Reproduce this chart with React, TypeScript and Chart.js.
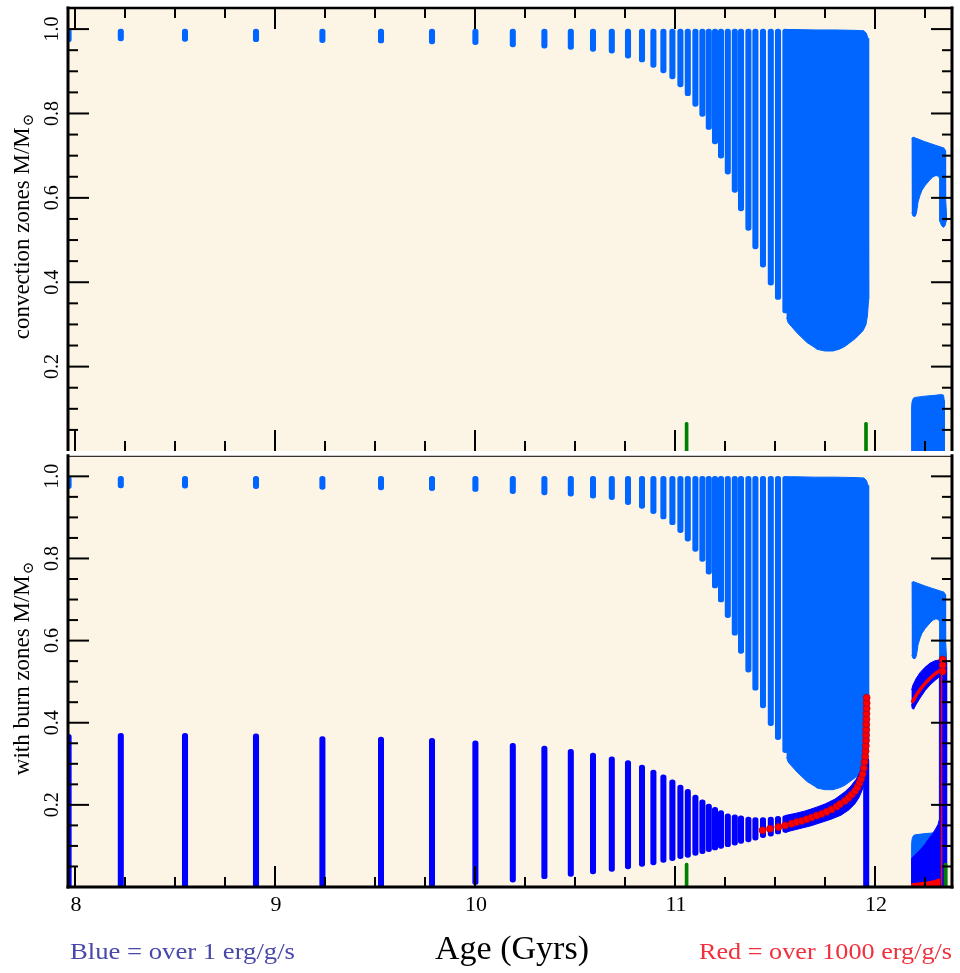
import React, { useEffect, useRef } from "react";
import { Chart, registerables } from "chart.js";

Chart.register(...registerables);

// ---------------- axis settings ----------------
const X_MIN = 7.965;
const X_MAX = 12.385;
const Y_MAX = 1.05;
const xTickValues = [8, 9, 10, 11, 12];
const xTickLabels = ["8", "9", "10", "11", "12"];
const yTickValues = [0.2, 0.4, 0.6, 0.8, 1.0];
const yTickLabels = ["0.2", "0.4", "0.6", "0.8", "1.0"];

// ---------------- convection zones (light blue) ----------------
const zoneAge = [7.968, 8.229, 8.55, 8.905, 9.237, 9.53, 9.785, 10.002, 10.189, 10.347, 10.479, 10.59, 10.684, 10.765, 10.835, 10.892, 10.942, 10.987, 11.027, 11.064, 11.102, 11.137, 11.169, 11.2, 11.23, 11.264, 11.299, 11.33, 11.367, 11.402, 11.44, 11.479, 11.515, 11.552];
const convLow = [0.970, 0.972, 0.971, 0.970, 0.968, 0.967, 0.965, 0.963, 0.958, 0.955, 0.952, 0.947, 0.943, 0.931, 0.922, 0.909, 0.896, 0.882, 0.863, 0.842, 0.817, 0.793, 0.762, 0.728, 0.694, 0.656, 0.613, 0.569, 0.523, 0.479, 0.436, 0.393, 0.359, 0.327];
const convHigh = [1.0, 1.0, 1.0, 1.0, 1.0, 1.0, 1.0, 1.0, 1.0, 1.0, 1.0, 1.0, 1.0, 1.0, 1.0, 1.0, 1.0, 1.0, 1.0, 1.0, 1.0, 1.0, 1.0, 1.0, 1.0, 1.0, 1.0, 1.0, 1.0, 1.0, 1.0, 1.0, 1.0, 1.0];

// dense envelope of the convective zone (outline)
const denseConvAge = [11.558, 11.60, 11.70, 11.80, 11.90, 11.945, 11.957, 11.965, 11.969, 11.969, 11.967, 11.962, 11.955, 11.94, 11.925, 11.90, 11.875, 11.85, 11.825, 11.79, 11.75, 11.71, 11.70, 11.66, 11.61, 11.566, 11.558];
const denseConvMass = [0.999, 0.999, 0.998, 0.998, 0.997, 0.996, 0.99, 0.978, 0.955, 0.42, 0.36, 0.32, 0.30, 0.285, 0.278, 0.266, 0.257, 0.248, 0.242, 0.237, 0.237, 0.241, 0.245, 0.257, 0.28, 0.304, 0.316];

// shell convection after the flash (outline)
const shellConvAge = [12.183, 12.19, 12.25, 12.30, 12.345, 12.352, 12.353, 12.357, 12.356, 12.35, 12.342, 12.333, 12.324, 12.323, 12.318, 12.305, 12.29, 12.275, 12.25, 12.235, 12.225, 12.215, 12.211, 12.206, 12.2, 12.19, 12.184];
const shellConvMass = [0.740, 0.744, 0.733, 0.725, 0.718, 0.712, 0.60, 0.565, 0.545, 0.534, 0.530, 0.534, 0.545, 0.645, 0.651, 0.653, 0.650, 0.643, 0.629, 0.618, 0.606, 0.59, 0.575, 0.562, 0.556, 0.557, 0.565];

// core convection (outline)
const coreConvAge = [12.183, 12.183, 12.186, 12.192, 12.20, 12.25, 12.30, 12.333, 12.343, 12.346, 12.347];
const coreConvMass = [-0.01, 0.106, 0.118, 0.125, 0.127, 0.130, 0.132, 0.134, 0.132, 0.12, -0.01];

// ---------------- burning zones (dark blue, > 1 erg/g/s) ----------------
const burnAge = [7.968, 8.229, 8.55, 8.905, 9.237, 9.53, 9.785, 10.002, 10.189, 10.347, 10.479, 10.59, 10.684, 10.765, 10.835, 10.892, 10.942, 10.987, 11.027, 11.064, 11.102, 11.137, 11.169, 11.2, 11.23, 11.264, 11.299, 11.33, 11.367, 11.402, 11.44, 11.479, 11.515, 11.552, 11.956];
const burnLow = [-0.02, -0.02, -0.02, -0.02, -0.02, -0.02, 0.0, 0.006, 0.012, 0.020, 0.026, 0.032, 0.038, 0.044, 0.050, 0.054, 0.060, 0.064, 0.069, 0.072, 0.077, 0.081, 0.086, 0.090, 0.094, 0.098, 0.102, 0.106, 0.110, 0.114, 0.120, 0.124, 0.129, 0.133, -0.02];
const burnHigh = [0.372, 0.374, 0.374, 0.373, 0.366, 0.365, 0.362, 0.356, 0.350, 0.343, 0.335, 0.326, 0.317, 0.308, 0.297, 0.285, 0.273, 0.261, 0.248, 0.238, 0.224, 0.212, 0.202, 0.194, 0.186, 0.178, 0.176, 0.173, 0.170, 0.169, 0.169, 0.170, 0.172, 0.174, 0.314];

// H-burning shell band (outline)
const burnBandAge = [11.55, 11.60, 11.65, 11.70, 11.75, 11.80, 11.85, 11.88, 11.905, 11.925, 11.94, 11.95, 11.956, 11.96, 11.96, 11.953, 11.945, 11.935, 11.92, 11.90, 11.87, 11.83, 11.78, 11.73, 11.68, 11.63, 11.58, 11.55];
const burnBandMass = [0.174, 0.179, 0.185, 0.193, 0.202, 0.214, 0.232, 0.246, 0.262, 0.28, 0.30, 0.33, 0.40, 0.47, 0.30, 0.27, 0.25, 0.235, 0.218, 0.203, 0.188, 0.175, 0.165, 0.157, 0.149, 0.143, 0.137, 0.133];

// burning arc after the flash (outline)
const bananaBurnAge = [12.183, 12.19, 12.205, 12.225, 12.25, 12.275, 12.30, 12.322, 12.322, 12.30, 12.275, 12.25, 12.225, 12.205, 12.193, 12.186, 12.183];
const bananaBurnMass = [0.48, 0.492, 0.507, 0.522, 0.535, 0.545, 0.551, 0.553, 0.512, 0.503, 0.492, 0.478, 0.46, 0.444, 0.433, 0.435, 0.445];

// core burning + He shell column (outline)
const coreBurnAge = [12.183, 12.183, 12.20, 12.225, 12.25, 12.267, 12.285, 12.30, 12.315, 12.322, 12.322, 12.326, 12.334, 12.345, 12.354, 12.358, 12.358];
const coreBurnMass = [-0.01, 0.07, 0.078, 0.09, 0.104, 0.116, 0.128, 0.139, 0.152, 0.165, 0.548, 0.556, 0.56, 0.559, 0.555, 0.545, -0.01];

// ---------------- strong burning (red, > 1000 erg/g/s) ----------------
const redDotAge = [11.438, 11.475, 11.517, 11.55, 11.583, 11.608, 11.633, 11.658, 11.683, 11.708, 11.733, 11.758, 11.783, 11.808, 11.825, 11.85, 11.867, 11.883, 11.90, 11.912, 11.922, 11.93, 11.938, 11.944, 11.948, 11.951, 11.953, 11.954, 11.955, 11.955, 11.956, 11.956, 11.957, 11.957, 11.958, 11.958, 11.958];
const redDotMass = [0.138, 0.142, 0.146, 0.150, 0.154, 0.158, 0.161, 0.165, 0.169, 0.174, 0.178, 0.183, 0.189, 0.196, 0.202, 0.210, 0.217, 0.225, 0.234, 0.243, 0.253, 0.263, 0.275, 0.29, 0.305, 0.318, 0.331, 0.344, 0.357, 0.370, 0.383, 0.396, 0.409, 0.422, 0.435, 0.448, 0.461];
const shellRedAge = [12.338, 12.338, 12.338];
const shellRedMass = [0.554, 0.54, 0.525];
const bananaRedAge = [12.188, 12.21, 12.24, 12.27, 12.30, 12.325];
const bananaRedMass = [0.452, 0.47, 0.49, 0.506, 0.519, 0.528];
const columnRedAge = [12.333, 12.333];
const columnRedMass = [0.0, 0.52];
const coreRedAge = [12.183, 12.183, 12.22, 12.26, 12.30, 12.32, 12.322];
const coreRedMass = [-0.01, 0.008, 0.01, 0.012, 0.016, 0.02, -0.01];

// ---------------- green markers ----------------
const greenTopAge = [11.058, 11.955];
const greenTopMass = [0.068, 0.068];
const greenBottomAge = [11.058, 12.353];
const greenBottomMass = [0.058, 0.058];

// ---------------- styles ----------------
const BG = "#fcf5e6";
const LIGHT = "#0066ff";
const DARK = "#0000ff";
const RED = "#ff0000";
const GREEN = "#008000";
const SERIF = '"Liberation Serif", "DejaVu Serif", serif';

const pts = (xs: number[], ys: number[]) => xs.map((x, i) => ({ x, y: ys[i] }));
const bars = (xs: number[], lo: number[], hi: number[]) => xs.map((x, i) => ({ x, y: [lo[i], hi[i]] }));
const floorBars = (xs: number[], hi: number[]) => xs.map((x, i) => ({ x, y: [-0.01, hi[i]] }));

const polygon = (xs: number[], ys: number[], color: string, order: number) => ({
  type: "line" as const,
  data: pts(xs, ys),
  borderColor: color,
  backgroundColor: color,
  borderWidth: 1,
  pointRadius: 0,
  tension: 0,
  fill: "shape",
  order,
  clip: 0,
});

const barSet = (data: any[], color: string, thickness: number, order: number) => ({
  type: "bar" as const,
  data,
  backgroundColor: color,
  borderWidth: 0,
  barThickness: thickness,
  borderRadius: thickness / 2,
  borderSkipped: false,
  grouped: false,
  order,
  clip: 0,
});

const convDatasets = (order: number) => [
  barSet(bars(zoneAge, convLow, convHigh), LIGHT, 5.4, order),
  polygon(denseConvAge, denseConvMass, LIGHT, order),
  polygon(shellConvAge, shellConvMass, LIGHT, order),
  polygon(coreConvAge, coreConvMass, LIGHT, order),
];

function drawYTitle(ctx: CanvasRenderingContext2D, text: string, x: number, y: number) {
  ctx.save();
  ctx.translate(x, y);
  ctx.rotate(-Math.PI / 2);
  ctx.fillStyle = "#000";
  ctx.textBaseline = "alphabetic";
  ctx.textAlign = "left";
  ctx.font = `23px ${SERIF}`;
  const w1 = ctx.measureText(text).width;
  ctx.font = `15px "DejaVu Serif", serif`;
  const w2 = ctx.measureText("\u2299").width;
  const start = -(w1 + w2 + 1) / 2;
  ctx.font = `23px ${SERIF}`;
  ctx.fillText(text, start, 0);
  ctx.font = `15px "DejaVu Serif", serif`;
  ctx.fillText("\u2299", start + w1 + 1, 4);
  ctx.restore();
}

// draws text stretched horizontally to a target width (TeX fonts are wider)
function fitText(ctx: CanvasRenderingContext2D, text: string, x: number, y: number, width: number, align: "left" | "right") {
  const w = ctx.measureText(text).width;
  const s = width / w;
  ctx.save();
  ctx.textAlign = "left";
  const left = align === "left" ? x : x - width;
  ctx.translate(left, y);
  ctx.scale(s, 1);
  ctx.fillText(text, 0, 0);
  ctx.restore();
}

function decorPlugin(cfg: { title: string; top: boolean }) {
  return {
    id: "decor",
    beforeDraw(chart: any) {
      const { ctx, chartArea: a } = chart;
      ctx.save();
      ctx.fillStyle = BG;
      ctx.fillRect(a.left, a.top, a.right - a.left, a.bottom - a.top);
      ctx.restore();
    },
    afterDraw(chart: any) {
      const { ctx, chartArea: a } = chart;
      const xs = chart.scales.x;
      const ys = chart.scales.y;
      ctx.save();
      ctx.strokeStyle = "#000";
      ctx.lineCap = "butt";
      const line = (x1: number, y1: number, x2: number, y2: number, w: number) => {
        ctx.lineWidth = w;
        ctx.beginPath();
        ctx.moveTo(x1, y1);
        ctx.lineTo(x2, y2);
        ctx.stroke();
      };
      // x ticks every 0.25
      for (let k = 0; k <= 17; k++) {
        const v = 8 + k * 0.25;
        const p = xs.getPixelForValue(v);
        if (p < a.left || p > a.right) continue;
        const len = k % 4 === 0 ? 21 : 10;
        if (cfg.top) {
          line(p, a.top, p, a.top + len, 2);
          line(p, a.bottom, p, a.bottom - len, 2);
        } else {
          line(p, a.bottom, p, a.bottom - len, 2);
        }
      }
      // y ticks every 0.05
      for (let k = 1; k <= 20; k++) {
        const v = k * 0.05;
        const p = ys.getPixelForValue(v);
        const len = k % 4 === 0 ? 21 : 10;
        line(a.left, p, a.left + len, p, 2);
        line(a.right, p, a.right - len, p, 2);
      }
      // frame
      ctx.lineCap = "square";
      line(a.left, a.top, a.left, a.bottom, 3);
      line(a.right, a.top, a.right, a.bottom, 3);
      if (cfg.top) {
        line(a.left, a.top, a.right, a.top, 2.5);
      } else {
        ctx.lineCap = "butt";
        line(a.left, a.top + 0.5, a.right, a.top + 0.5, 1);
        ctx.lineCap = "square";
        line(a.left, a.bottom, a.right, a.bottom, 3);
      }
      // y tick labels (rotated)
      ctx.fillStyle = "#000";
      ctx.font = `20px ${SERIF}`;
      yTickValues.forEach((v, i) => {
        const p = ys.getPixelForValue(v);
        ctx.save();
        ctx.translate(a.left - 10, p);
        ctx.rotate(-Math.PI / 2);
        ctx.textAlign = "center";
        ctx.textBaseline = "alphabetic";
        ctx.fillText(yTickLabels[i], 0, 0);
        ctx.restore();
      });
      drawYTitle(ctx, cfg.title, 29, (a.top + a.bottom) / 2 - 3);
      if (!cfg.top) {
        ctx.textBaseline = "alphabetic";
        ctx.textAlign = "center";
        ctx.font = `22px ${SERIF}`;
        xTickValues.forEach((v, i) => {
          const p = xs.getPixelForValue(v);
          ctx.fillText(xTickLabels[i], p + 1, a.bottom + 24);
        });
        ctx.font = `34px ${SERIF}`;
        ctx.fillText("Age (Gyrs)", 512, a.bottom + 72);
        ctx.font = `23px ${SERIF}`;
        ctx.fillStyle = "#4848a8";
        fitText(ctx, "Blue = over 1 erg/g/s", 70, a.bottom + 72, 225, "left");
        ctx.fillStyle = "#f0303c";
        fitText(ctx, "Red = over 1000 erg/g/s", 952, a.bottom + 72, 253, "right");
      }
      ctx.restore();
    },
  };
}

function baseOptions(padding: any) {
  return {
    responsive: false,
    animation: false as const,
    devicePixelRatio: 1,
    events: [] as any[],
    layout: { padding },
    plugins: { legend: { display: false }, tooltip: { enabled: false } },
    scales: {
      x: { type: "linear" as const, min: X_MIN, max: X_MAX, display: false, offset: false },
      y: { type: "linear" as const, min: 0, max: Y_MAX, display: false },
    },
  };
}

export default function App() {
  const topRef = useRef<HTMLCanvasElement>(null);
  const botRef = useRef<HTMLCanvasElement>(null);

  useEffect(() => {
    const top = new Chart(topRef.current!, {
      type: "bar",
      data: {
        datasets: [
          barSet(floorBars(greenTopAge, greenTopMass), GREEN, 3, 0),
          ...convDatasets(5),
        ] as any,
      },
      options: baseOptions({ left: 68, right: 8, top: 8, bottom: 0 }) as any,
      plugins: [decorPlugin({ title: "convection zones M/M", top: true })],
    });

    const redPoints = (xs: number[], ys: number[]) => ({
      type: "line" as const,
      data: pts(xs, ys),
      showLine: false,
      pointRadius: 3.5,
      pointBackgroundColor: RED,
      pointBorderColor: "#b0002a",
      pointBorderWidth: 0.8,
      order: 0,
    });
    const redLine = (xs: number[], ys: number[], w: number) => ({
      type: "line" as const,
      data: pts(xs, ys),
      borderColor: RED,
      borderWidth: w,
      borderCapStyle: "round",
      pointRadius: 0,
      tension: 0.3,
      fill: false,
      order: 1,
      clip: 0,
    });

    const bot = new Chart(botRef.current!, {
      type: "bar",
      data: {
        datasets: [
          redPoints(redDotAge, redDotMass),
          redPoints(shellRedAge, shellRedMass),
          redLine(bananaRedAge, bananaRedMass, 3.5),
          redLine(columnRedAge, columnRedMass, 1.5),
          polygon(coreRedAge, coreRedMass, RED, 1),
          barSet(floorBars(greenBottomAge, greenBottomMass), GREEN, 3, 1),
          barSet(bars(burnAge, burnLow, burnHigh), DARK, 5.4, 3),
          polygon(burnBandAge, burnBandMass, DARK, 3),
          polygon(bananaBurnAge, bananaBurnMass, DARK, 3),
          polygon(coreBurnAge, coreBurnMass, DARK, 3),
          ...convDatasets(5),
        ] as any,
      },
      options: baseOptions({ left: 68, right: 8, top: 0, bottom: 86 }) as any,
      plugins: [decorPlugin({ title: "with burn zones M/M", top: false })],
    });

    return () => {
      top.destroy();
      bot.destroy();
    };
  }, []);

  return (
    <div style={{ position: "absolute", left: 0, top: 0, width: 960, height: 973, background: "#fff" }}>
      <canvas ref={topRef} width={960} height={451} style={{ position: "absolute", left: 0, top: 0, width: 960, height: 451 }} />
      <canvas ref={botRef} width={960} height={522} style={{ position: "absolute", left: 0, top: 451, width: 960, height: 522 }} />
    </div>
  );
}
